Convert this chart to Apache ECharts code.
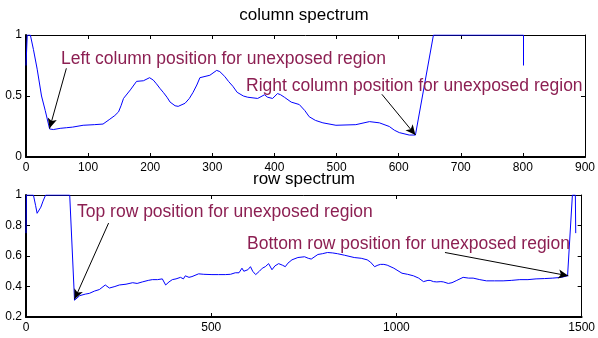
<!DOCTYPE html>
<html>
<head>
<meta charset="utf-8">
<script src="https://cdn.jsdelivr.net/npm/echarts@6/dist/echarts.min.js"></script>
<style>html,body{margin:0;padding:0;background:#fff}#c{width:598px;height:338px}</style>
</head>
<body>
<div id="c"></div>
<script>
// column spectrum
var colX = [0,2,7,12,18,25,31,38,44,55,65,75,92,110,124,135,143,149,153,157,168,178,189,199,205,210,216,221,227,232,240,245,256,263,269,275,280,296,307,312,320,326,333,340,350,357,373,384,389,397,405,410,416,427,440,449,456,466,478,499,531,553,569,585,593,601,617,627,656,700,750,801,801];
var colY = [0.75,1,1,0.88,0.72,0.5,0.38,0.23,0.225,0.235,0.24,0.245,0.26,0.265,0.27,0.31,0.34,0.37,0.42,0.48,0.55,0.62,0.625,0.65,0.63,0.6,0.56,0.53,0.49,0.45,0.42,0.415,0.44,0.48,0.53,0.59,0.65,0.67,0.71,0.7,0.66,0.62,0.58,0.53,0.5,0.49,0.48,0.51,0.49,0.48,0.52,0.51,0.49,0.45,0.43,0.38,0.33,0.3,0.28,0.26,0.265,0.29,0.28,0.25,0.22,0.2,0.18,0.18,1,1,1,1,0.75];
// row spectrum
var rowX = [0,1,20,26,30,35,40,46,53,118,131,145,160,171,185,198,214,225,240,252,270,288,300,314,330,341,355,368,377,386,395,405,417,425,430,440,448,466,480,502,520,538,552,565,575,583,588,592,599,606,612,620,630,638,646,655,664,672,682,692,700,707,718,734,752,762,770,788,800,814,828,841,860,886,905,921,930,941,950,957,966,975,993,1015,1030,1046,1060,1073,1085,1091,1100,1109,1120,1127,1140,1150,1163,1180,1195,1207,1225,1243,1265,1288,1310,1333,1355,1377,1400,1422,1445,1462,1475,1483,1484];
var rowY = [0.75,1,1,0.93,0.88,0.88,0.92,0.96,1,1,0.31,0.34,0.35,0.355,0.37,0.38,0.41,0.39,0.4,0.41,0.415,0.425,0.42,0.43,0.44,0.445,0.445,0.45,0.41,0.43,0.445,0.45,0.46,0.45,0.47,0.46,0.465,0.483,0.48,0.478,0.478,0.478,0.48,0.49,0.49,0.52,0.5,0.49,0.51,0.53,0.5,0.478,0.5,0.52,0.53,0.55,0.51,0.535,0.55,0.54,0.53,0.553,0.575,0.59,0.595,0.585,0.58,0.61,0.615,0.623,0.62,0.615,0.605,0.59,0.585,0.575,0.56,0.53,0.54,0.545,0.545,0.54,0.52,0.487,0.48,0.47,0.455,0.432,0.44,0.44,0.432,0.43,0.432,0.43,0.42,0.425,0.44,0.46,0.455,0.455,0.445,0.437,0.437,0.437,0.44,0.445,0.445,0.45,0.452,0.455,0.46,0.47,1,1,0.75];

var titles = ['column spectrum', 'row spectrum'];
var notes = ['Left column position for unexposed region', 'Right column position for unexposed region',
             'Top row position for unexposed region', 'Bottom row position for unexposed region'];
// arrows: [start, tip] in data units
var colArrows = [[[65, 0.727], [38, 0.235]], [[573, 0.514], [627, 0.18]]];
var rowArrows = [[[223, 0.816], [131, 0.316]], [[1131, 0.623], [1464, 0.47]]];

function zip(a, b) { return a.map(function (v, i) { return [v, b[i]]; }); }
function plain(v) { return String(Math.round(v * 1000) / 1000); }

var FONT = 'Liberation Sans, Arial, sans-serif';
var NOTE = '#8c1f52';

function mainX(gi, min, max, iv) {
  return {
    type: 'value', gridIndex: gi, min: min, max: max, interval: iv, position: 'bottom',
    axisLine: { show: true, onZero: false, lineStyle: { color: '#000', width: 2 } },
    axisTick: { show: true, inside: true, length: 4, lineStyle: { color: '#000' } },
    axisLabel: { color: '#000', fontSize: 12, fontFamily: FONT, margin: 5, formatter: plain },
    splitLine: { show: false }
  };
}
function mirrorX(gi, min, max, iv) {
  return {
    type: 'value', gridIndex: gi, min: min, max: max, interval: iv, position: 'top',
    axisLine: { show: true, onZero: false, lineStyle: { color: '#000', width: 1 } },
    axisTick: { show: true, inside: true, length: 4, lineStyle: { color: '#000' } },
    axisLabel: { show: false }, splitLine: { show: false }
  };
}
function mainY(gi, min, max, iv) {
  return {
    type: 'value', gridIndex: gi, min: min, max: max, interval: iv, position: 'left',
    axisLine: { show: true, onZero: false, lineStyle: { color: '#000', width: 2 } },
    axisTick: { show: true, inside: true, length: 4, lineStyle: { color: '#000' } },
    axisLabel: { color: '#000', fontSize: 12, fontFamily: FONT, margin: 4, formatter: plain },
    splitLine: { show: false }
  };
}
function mirrorY(gi, min, max, iv) {
  return {
    type: 'value', gridIndex: gi, min: min, max: max, interval: iv, position: 'right',
    axisLine: { show: true, onZero: false, lineStyle: { color: '#000', width: 1 } },
    axisTick: { show: true, inside: true, length: 4, lineStyle: { color: '#000' } },
    axisLabel: { show: false }, splitLine: { show: false }
  };
}
function arrowLine(arr) {
  return {
    silent: true, symbol: ['none', 'arrow'], symbolSize: [7, 10], animation: false,
    label: { show: false },
    lineStyle: { color: '#000', width: 1, type: 'solid' },
    data: arr.map(function (a) { return [{ coord: a[0] }, { coord: a[1] }]; })
  };
}

var chart = echarts.init(document.getElementById('c'), null, { renderer: 'canvas' });
chart.setOption({
  animation: false,
  backgroundColor: '#fff',
  grid: [
    { left: 26, top: 35, width: 560, height: 122 },
    { left: 26, top: 195, width: 560, height: 122 }
  ],
  xAxis: [mainX(0, 0, 900, 100), mirrorX(0, 0, 900, 100), mainX(1, 0, 1500, 500), mirrorX(1, 0, 1500, 500)],
  yAxis: [mainY(0, 0, 1, 0.5), mirrorY(0, 0, 1, 0.5), mainY(1, 0.2, 1, 0.2), mirrorY(1, 0.2, 1, 0.2)],
  series: [
    { type: 'line', xAxisIndex: 0, yAxisIndex: 0, data: zip(colX, colY), showSymbol: false, clip: true,
      lineStyle: { color: '#0000ff', width: 1 }, markLine: arrowLine(colArrows) },
    { type: 'line', xAxisIndex: 2, yAxisIndex: 2, data: zip(rowX, rowY), showSymbol: false, clip: true,
      lineStyle: { color: '#0000ff', width: 1 }, markLine: arrowLine(rowArrows) }
  ],
  graphic: [
    { type: 'text', x: 304, y: 15, style: { text: titles[0], fill: '#000', font: '17px ' + FONT, textAlign: 'center', textVerticalAlign: 'middle' } },
    { type: 'text', x: 304, y: 179, style: { text: titles[1], fill: '#000', font: '17px ' + FONT, textAlign: 'center', textVerticalAlign: 'middle' } },
    { type: 'text', x: 61, y: 59, z: 10, style: { text: notes[0], fill: NOTE, font: '17.5px ' + FONT, textAlign: 'left', textVerticalAlign: 'middle' } },
    { type: 'text', x: 246, y: 86, z: 10, style: { text: notes[1], fill: NOTE, font: '17.5px ' + FONT, textAlign: 'left', textVerticalAlign: 'middle' } },
    { type: 'text', x: 77, y: 212, z: 10, style: { text: notes[2], fill: NOTE, font: '17.5px ' + FONT, textAlign: 'left', textVerticalAlign: 'middle' } },
    { type: 'text', x: 247, y: 244, z: 10, style: { text: notes[3], fill: NOTE, font: '17.5px ' + FONT, textAlign: 'left', textVerticalAlign: 'middle' } }
  ]
});
</script>
</body>
</html>
